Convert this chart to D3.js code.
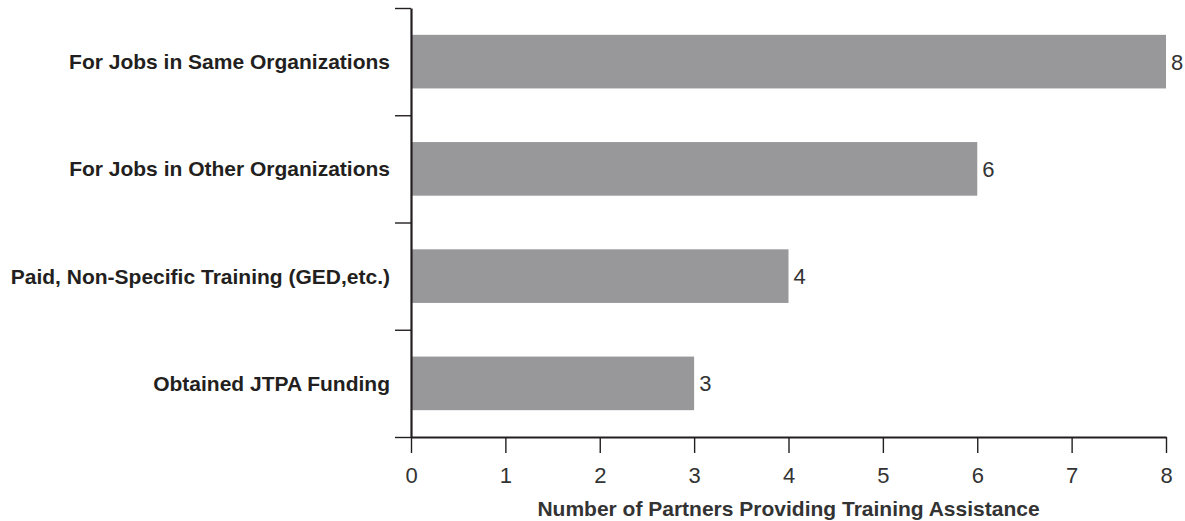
<!DOCTYPE html>
<html>
<head>
<meta charset="utf-8">
<script src="https://cdn.jsdelivr.net/npm/d3@7"></script>
<style>
  body { margin: 0; background: #fff; }
  text { font-family: "Liberation Sans", Arial, Helvetica, sans-serif; }
</style>
</head>
<body>
<svg id="chart"></svg>
<script>
// data
var categories = [
    "For Jobs in Same Organizations",
    "For Jobs in Other Organizations",
    "Paid, Non-Specific Training (GED,etc.)",
    "Obtained JTPA Funding"
];
var values = [8, 6, 4, 3];
var xTicks = [0, 1, 2, 3, 4, 5, 6, 7, 8];
var xTitle = "Number of Partners Providing Training Assistance";

var width = 1185, height = 521;
var margin = { top: 8, right: 19, bottom: 84, left: 411 };

var svg = d3.select("#chart")
    .attr("width", width)
    .attr("height", height);

var x = d3.scaleLinear()
    .domain([0, 8])
    .range([margin.left, width - margin.right]);

var y = d3.scaleBand()
    .domain(categories)
    .range([margin.top, height - margin.bottom])
    .paddingInner(0.5)
    .paddingOuter(0.25);

// boundaries between categories, for the left ticks
var yEdge = d3.scaleLinear()
    .domain([0, categories.length])
    .range([margin.top, height - margin.bottom]);

var textColor = "#231f20";

// bars
svg.selectAll(".bar")
    .data(values)
    .enter()
    .append("rect")
    .attr("class", "bar")
    .attr("x", x(0))
    .attr("y", function(d, i) { return y(categories[i]); })
    .attr("width", function(d) { return x(d) - x(0); })
    .attr("height", y.bandwidth())
    .attr("fill", "#98989b");

// value labels
svg.selectAll(".valLabel")
    .data(values)
    .enter()
    .append("text")
    .attr("class", "valLabel")
    .attr("x", function(d) { return x(d) + 5; })
    .attr("y", function(d, i) { return y(categories[i]) + y.bandwidth() / 2; })
    .attr("dy", "0.36em")
    .style("font-size", "22px")
    .attr("fill", "#333")
    .text(function(d) { return d; });

// category labels
svg.selectAll(".catLabel")
    .data(categories)
    .enter()
    .append("text")
    .attr("class", "catLabel")
    .attr("x", margin.left - 21)
    .attr("y", function(d) { return y(d) + y.bandwidth() / 2; })
    .attr("dy", "0.36em")
    .attr("text-anchor", "end")
    .style("font-size", "21px")
    .style("font-weight", "bold")
    .attr("fill", textColor)
    .text(function(d) { return d; });

// left axis, ticks on the band edges
var yAxis = svg.append("g")
    .attr("transform", "translate(" + margin.left + ",0)")
    .call(d3.axisLeft(yEdge)
        .tickValues(d3.range(0, categories.length + 1))
        .tickFormat("")
        .tickSize(16)
        .tickSizeOuter(0));
yAxis.select(".domain").attr("stroke", textColor).attr("stroke-width", 2.2);
yAxis.selectAll(".tick line").attr("stroke", textColor).attr("stroke-width", 1.4);

// bottom axis
var xAxis = svg.append("g")
    .attr("transform", "translate(0," + (height - margin.bottom) + ")")
    .call(d3.axisBottom(x)
        .tickValues(xTicks)
        .tickSize(16)
        .tickSizeOuter(0)
        .tickPadding(14));
xAxis.select(".domain").attr("stroke", textColor).attr("stroke-width", 2.2);
xAxis.selectAll(".tick line").attr("stroke", textColor).attr("stroke-width", 1.4);
xAxis.selectAll(".tick text")
    .style("font-size", "22px")
    .style("font-family", "'Liberation Sans', Arial, sans-serif")
    .attr("fill", "#333");

// axis title
svg.append("text")
    .attr("x", (x(0) + x(8)) / 2)
    .attr("y", 516)
    .attr("text-anchor", "middle")
    .style("font-size", "21px")
    .style("font-weight", "bold")
    .attr("fill", "#333")
    .text(xTitle);
</script>
</body>
</html>
